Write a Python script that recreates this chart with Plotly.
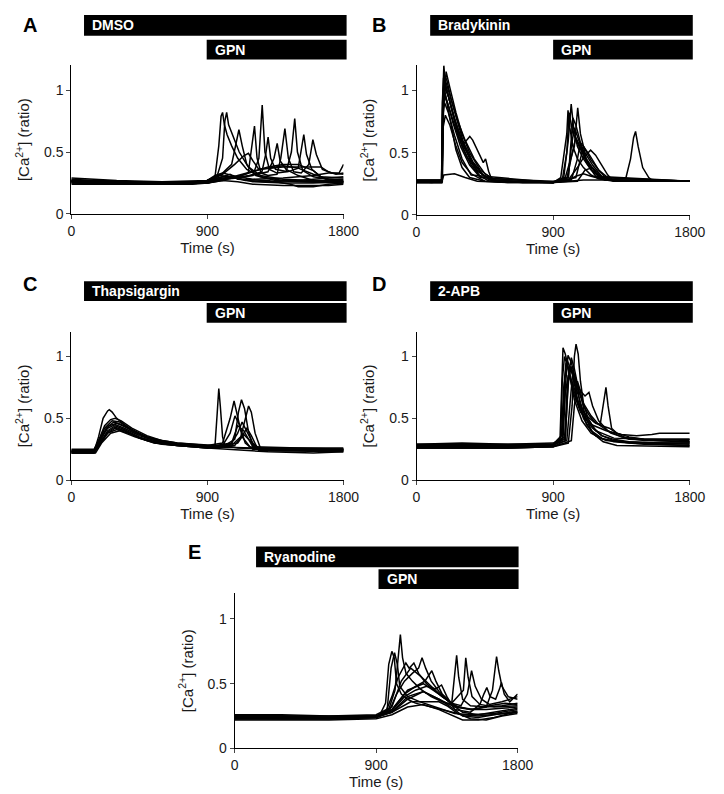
import plotly.graph_objects as go

# ---------------- DATA ----------------
x_ticks = [0, 900, 1800]
y_ticks = [0, 0.5, 1]
y_tick_text = ["0", "0.5", "1"]
panel_letters = ["A", "B", "C", "D", "E"]
drug_names = ["DMSO", "Bradykinin", "Thapsigargin", "2-APB", "Ryanodine"]
drug_start = [84, 90, 84, 90, 136]
gpn_start = [895, 900, 895, 900, 915]
bar_end = [1820, 1820, 1820, 1820, 1806]

dmso_traces = [
    ([0,150,300,450,600,750,880,950,975,990,1000,1012,1030,1060,1100,1160,1250,1400,1600,1800],
     [0.28,0.27,0.26,0.26,0.25,0.25,0.26,0.30,0.55,0.79,0.82,0.72,0.64,0.55,0.45,0.36,0.30,0.27,0.26,0.26]),
    ([0,150,300,450,600,750,880,960,1000,1015,1027,1040,1070,1110,1170,1250,1400,1600,1800],
     [0.27,0.26,0.25,0.26,0.25,0.25,0.25,0.29,0.45,0.75,0.82,0.72,0.62,0.50,0.38,0.31,0.28,0.27,0.27]),
    ([0,200,400,600,800,900,1000,1060,1085,1108,1130,1160,1220,1350,1500,1800],
     [0.26,0.26,0.25,0.25,0.25,0.27,0.33,0.40,0.55,0.68,0.55,0.40,0.31,0.27,0.26,0.25]),
    ([0,200,400,600,800,900,1000,1100,1170,1195,1211,1228,1255,1300,1360,1385,1412,1435,1470,1520,1570,1597,1620,1660,1720,1800],
     [0.27,0.26,0.26,0.25,0.25,0.27,0.30,0.30,0.33,0.55,0.71,0.45,0.33,0.31,0.32,0.45,0.69,0.45,0.34,0.33,0.40,0.60,0.48,0.36,0.33,0.32]),
    ([0,200,400,600,800,900,1000,1100,1200,1240,1262,1280,1310,1360,1420,1455,1477,1495,1530,1600,1700,1800],
     [0.26,0.26,0.25,0.25,0.25,0.26,0.29,0.30,0.31,0.45,0.88,0.50,0.36,0.33,0.34,0.50,0.77,0.50,0.35,0.30,0.28,0.28]),
    ([0,200,400,600,800,900,1000,1150,1260,1285,1301,1318,1350,1430,1500,1522,1537,1555,1590,1650,1800],
     [0.27,0.27,0.26,0.26,0.25,0.26,0.28,0.30,0.34,0.48,0.62,0.45,0.36,0.34,0.37,0.52,0.64,0.48,0.36,0.30,0.29]),
    ([0,200,400,600,800,900,1000,1150,1300,1340,1361,1380,1420,1500,1600,1800],
     [0.26,0.25,0.25,0.24,0.24,0.25,0.28,0.30,0.34,0.45,0.57,0.43,0.36,0.31,0.27,0.26]),
    ([0,200,400,600,800,900,1000,1080,1140,1171,1200,1240,1300,1400,1500,1600,1700,1800],
     [0.27,0.26,0.26,0.25,0.25,0.27,0.32,0.40,0.47,0.49,0.43,0.36,0.37,0.39,0.37,0.32,0.28,0.27]),
    ([0,300,600,900,1000,1100,1200,1300,1400,1500,1600,1650,1700,1800],
     [0.26,0.25,0.25,0.26,0.28,0.30,0.34,0.38,0.40,0.40,0.35,0.30,0.27,0.26]),
    ([0,300,600,900,1000,1100,1250,1400,1550,1650,1700,1750,1800],
     [0.25,0.25,0.24,0.25,0.27,0.31,0.36,0.38,0.38,0.38,0.34,0.32,0.33]),
    ([0,300,600,900,950,1000,1100,1200,1400,1600,1700,1770,1800],
     [0.27,0.26,0.26,0.27,0.31,0.33,0.30,0.28,0.29,0.31,0.33,0.33,0.40]),
    ([0,300,600,900,1000,1050,1100,1300,1450,1500,1600,1700,1800],
     [0.26,0.25,0.25,0.26,0.30,0.32,0.28,0.27,0.24,0.22,0.22,0.24,0.25]),
    ([0,300,600,900,1000,1100,1200,1400,1550,1700,1800],
     [0.25,0.24,0.24,0.25,0.27,0.26,0.24,0.23,0.23,0.23,0.24]),
    ([0,300,600,900,980,1050,1150,1300,1500,1700,1800],
     [0.29,0.27,0.26,0.26,0.31,0.30,0.27,0.26,0.27,0.29,0.30]),
    ([0,300,600,900,1000,1100,1200,1400,1600,1800],
     [0.24,0.24,0.24,0.25,0.28,0.29,0.26,0.25,0.25,0.26]),
]

bradykinin_traces = [
    ([0,80,165,172,180,190,210,240,280,330,400,480,550,700,900,950,990,998,1010,1030,1060,1100,1150,1200,1300,1500,1800],
     [0.27,0.27,0.27,0.90,1.20,1.05,0.95,0.80,0.62,0.47,0.35,0.29,0.27,0.26,0.26,0.30,0.65,0.84,0.70,0.55,0.45,0.38,0.32,0.29,0.27,0.27,0.27]),
    ([0,100,168,175,185,200,230,270,320,380,450,520,700,900,970,1000,1019,1035,1060,1100,1150,1220,1400,1800],
     [0.27,0.26,0.27,0.95,1.12,1.08,0.92,0.76,0.60,0.45,0.33,0.28,0.26,0.26,0.30,0.60,0.89,0.70,0.55,0.45,0.36,0.29,0.27,0.27]),
    ([0,100,165,172,180,200,240,280,310,335,351,370,400,420,440,455,475,500,600,900,980,1040,1062,1080,1110,1160,1220,1300,1800],
     [0.27,0.27,0.27,0.85,1.05,1.00,0.80,0.62,0.57,0.61,0.63,0.60,0.52,0.47,0.42,0.45,0.35,0.27,0.26,0.26,0.30,0.55,0.86,0.65,0.50,0.40,0.31,0.27,0.27]),
    ([0,165,180,250,320,400,600,900,1000,1050,1100,1150,1250,1400,1800],
     [0.26,0.26,0.32,0.33,0.30,0.27,0.26,0.26,0.28,0.31,0.33,0.31,0.28,0.27,0.27]),
    ([0,165,172,185,200,230,260,300,350,450,900,1000,1030,1050,1080,1120,1200,1800],
     [0.27,0.27,0.80,1.00,0.90,0.70,0.52,0.38,0.30,0.27,0.26,0.30,0.78,0.72,0.58,0.45,0.30,0.27]),
    ([0,165,170,178,190,220,260,310,370,430,500,900,960,990,1005,1030,1070,1120,1180,1250,1800],
     [0.26,0.26,0.90,1.10,1.05,0.90,0.72,0.55,0.42,0.33,0.27,0.26,0.28,0.50,0.82,0.66,0.55,0.44,0.34,0.28,0.27]),
    ([0,168,175,185,210,250,300,360,420,480,900,1000,1060,1100,1147,1180,1220,1260,1300,1800],
     [0.28,0.28,0.85,0.95,0.88,0.72,0.55,0.40,0.31,0.27,0.26,0.28,0.38,0.46,0.52,0.48,0.40,0.32,0.27,0.27]),
    ([0,170,176,190,215,260,310,370,440,520,900,1000,1020,1040,1070,1110,1160,1240,1800],
     [0.27,0.27,0.95,1.08,0.98,0.78,0.58,0.43,0.32,0.27,0.26,0.30,0.55,0.70,0.60,0.46,0.35,0.28,0.27]),
    ([0,168,175,190,220,260,300,360,450,900,1050,1080,1100,1140,1200,1260,1800],
     [0.27,0.27,0.70,0.80,0.72,0.55,0.42,0.33,0.27,0.26,0.30,0.45,0.55,0.48,0.36,0.28,0.27]),
    ([0,168,175,185,210,250,300,350,400,480,900,1000,1100,1200,1300,1380,1410,1430,1443,1460,1490,1530,1560,1800],
     [0.26,0.26,0.90,1.02,0.95,0.78,0.60,0.45,0.36,0.28,0.26,0.27,0.28,0.28,0.28,0.30,0.45,0.62,0.67,0.55,0.38,0.30,0.27,0.27]),
    ([0,170,178,195,220,260,300,350,420,500,900,990,1030,1050,1080,1120,1180,1800],
     [0.28,0.28,0.85,1.15,1.02,0.82,0.65,0.50,0.36,0.29,0.27,0.29,0.52,0.62,0.54,0.42,0.31,0.27]),
    ([0,166,173,182,200,240,290,350,420,900,1020,1060,1080,1100,1150,1200,1280,1800],
     [0.27,0.27,0.88,1.00,0.92,0.74,0.55,0.40,0.30,0.26,0.28,0.45,0.58,0.55,0.44,0.36,0.28,0.27]),
    ([0,166,174,185,210,250,300,360,900,1060,1110,1160,1220,1800],
     [0.26,0.26,0.80,0.90,0.82,0.64,0.45,0.32,0.26,0.27,0.36,0.38,0.30,0.27]),
]

thapsigargin_traces = [
    ([0,100,150,180,210,240,251,270,300,350,400,500,600,700,800,900,1000,1050,1076,1100,1130,1180,1300,1500,1800],
     [0.23,0.23,0.23,0.35,0.50,0.56,0.57,0.55,0.50,0.45,0.40,0.35,0.32,0.30,0.29,0.28,0.30,0.50,0.64,0.50,0.35,0.27,0.24,0.24,0.24]),
    ([0,150,180,220,260,290,330,400,500,600,700,800,900,950,965,975,985,1000,1015,1100,1300,1800],
     [0.24,0.24,0.32,0.44,0.49,0.50,0.48,0.42,0.36,0.32,0.30,0.29,0.28,0.28,0.55,0.74,0.60,0.35,0.28,0.26,0.25,0.25]),
    ([0,150,180,220,270,320,400,500,600,700,800,900,1000,1080,1105,1125,1145,1170,1200,1300,1800],
     [0.22,0.22,0.30,0.42,0.48,0.47,0.41,0.35,0.31,0.29,0.28,0.27,0.27,0.33,0.55,0.65,0.58,0.40,0.28,0.24,0.24]),
    ([0,150,185,230,280,330,400,500,600,750,900,1050,1120,1150,1172,1190,1215,1250,1400,1800],
     [0.23,0.23,0.30,0.42,0.47,0.45,0.40,0.34,0.30,0.28,0.27,0.27,0.35,0.50,0.60,0.55,0.38,0.26,0.24,0.25]),
    ([0,150,190,240,290,350,450,550,700,900,1000,1050,1082,1110,1150,1200,1800],
     [0.24,0.24,0.32,0.42,0.45,0.42,0.36,0.32,0.29,0.27,0.28,0.38,0.52,0.45,0.30,0.25,0.25]),
    ([0,150,190,240,290,350,450,550,700,900,1050,1100,1129,1160,1200,1250,1800],
     [0.23,0.23,0.30,0.40,0.44,0.41,0.35,0.31,0.28,0.27,0.28,0.38,0.47,0.40,0.30,0.25,0.24]),
    ([0,150,190,240,290,350,450,550,700,900,1080,1130,1161,1190,1230,1800],
     [0.22,0.22,0.29,0.38,0.42,0.40,0.34,0.30,0.28,0.26,0.28,0.36,0.42,0.36,0.26,0.24]),
    ([0,150,190,240,290,350,450,600,800,900,1100,1140,1180,1240,1800],
     [0.23,0.23,0.30,0.39,0.43,0.40,0.34,0.29,0.27,0.26,0.30,0.37,0.32,0.24,0.23]),
    ([0,150,190,240,300,400,500,650,900,1200,1500,1800],
     [0.24,0.24,0.30,0.38,0.41,0.37,0.32,0.29,0.27,0.26,0.26,0.26]),
    ([0,150,190,250,300,360,450,600,800,900,1060,1100,1140,1200,1800],
     [0.25,0.25,0.34,0.44,0.46,0.43,0.37,0.31,0.28,0.27,0.30,0.44,0.40,0.27,0.25]),
    ([0,160,200,260,320,420,550,700,900,1300,1600,1800],
     [0.22,0.22,0.30,0.38,0.40,0.35,0.30,0.28,0.26,0.23,0.22,0.23]),
]

apb_traces = [
    ([0,200,400,600,800,900,945,955,965,980,1000,1030,1070,1110,1160,1220,1300,1400,1600,1800],
     [0.28,0.28,0.29,0.28,0.28,0.28,0.32,0.80,1.07,1.02,0.90,0.75,0.60,0.50,0.42,0.36,0.33,0.31,0.30,0.30]),
    ([0,300,600,900,960,980,998,1020,1050,1080,1110,1136,1160,1200,1260,1350,1500,1800],
     [0.27,0.27,0.27,0.28,0.33,0.75,1.01,0.95,0.80,0.72,0.68,0.71,0.60,0.48,0.40,0.35,0.33,0.32]),
    ([0,300,600,900,1000,1025,1040,1051,1065,1080,1100,1130,1170,1220,1300,1400,1600,1800],
     [0.26,0.26,0.26,0.27,0.30,0.60,1.00,1.10,1.02,0.80,0.62,0.50,0.42,0.36,0.32,0.30,0.29,0.28]),
    ([0,300,600,900,975,995,1020,1040,1070,1100,1140,1180,1210,1235,1248,1262,1285,1320,1400,1500,1800],
     [0.29,0.29,0.28,0.29,0.33,0.80,0.99,0.90,0.72,0.60,0.52,0.46,0.45,0.65,0.75,0.60,0.42,0.38,0.35,0.33,0.33]),
    ([0,300,600,900,950,960,975,995,1030,1080,1150,1250,1350,1450,1550,1600,1700,1800],
     [0.27,0.28,0.27,0.28,0.35,0.80,1.00,0.92,0.72,0.55,0.45,0.40,0.37,0.36,0.37,0.38,0.38,0.38]),
    ([0,300,600,900,955,970,985,1005,1040,1090,1150,1230,1350,1500,1800],
     [0.28,0.28,0.28,0.29,0.36,0.75,0.95,0.88,0.65,0.48,0.38,0.33,0.31,0.30,0.30]),
    ([0,300,600,900,980,995,1010,1030,1060,1100,1150,1220,1300,1500,1800],
     [0.26,0.26,0.26,0.27,0.32,0.70,0.92,0.85,0.65,0.50,0.40,0.34,0.31,0.29,0.28]),
    ([0,300,600,900,960,975,990,1020,1060,1100,1150,1200,1280,1400,1800],
     [0.27,0.27,0.27,0.28,0.34,0.78,0.98,0.88,0.75,0.62,0.52,0.45,0.38,0.33,0.31]),
    ([0,300,600,900,990,1010,1030,1050,1080,1120,1180,1250,1350,1800],
     [0.28,0.29,0.29,0.29,0.32,0.62,0.88,0.82,0.60,0.45,0.36,0.32,0.31,0.29]),
    ([0,300,600,900,965,980,1000,1030,1070,1120,1170,1220,1270,1320,1380,1500,1800],
     [0.27,0.27,0.28,0.28,0.33,0.70,0.85,0.78,0.62,0.52,0.47,0.44,0.42,0.38,0.34,0.32,0.31]),
    ([0,300,600,900,1020,1040,1060,1080,1110,1160,1230,1320,1800],
     [0.26,0.26,0.26,0.27,0.32,0.60,0.80,0.72,0.52,0.38,0.31,0.28,0.27]),
    ([0,300,600,900,980,1000,1020,1050,1100,1180,1300,1500,1800],
     [0.29,0.30,0.29,0.30,0.35,0.80,0.92,0.75,0.55,0.40,0.34,0.33,0.33]),
]

ryanodine_traces = [
    ([0,200,400,600,800,920,960,980,1000,1015,1030,1060,1100,1150,1250,1350,1450,1550,1650,1800],
     [0.24,0.24,0.24,0.24,0.24,0.25,0.35,0.65,0.75,0.70,0.50,0.42,0.38,0.35,0.32,0.29,0.26,0.25,0.26,0.28]),
    ([0,300,600,900,970,995,1017,1035,1050,1100,1180,1300,1400,1500,1650,1800],
     [0.23,0.23,0.23,0.24,0.30,0.62,0.74,0.65,0.48,0.40,0.36,0.31,0.27,0.26,0.27,0.30]),
    ([0,300,600,900,980,1020,1040,1054,1068,1090,1130,1180,1250,1320,1380,1400,1412,1425,1450,1500,1600,1700,1800],
     [0.25,0.25,0.24,0.25,0.30,0.45,0.70,0.88,0.70,0.58,0.52,0.46,0.40,0.36,0.34,0.55,0.72,0.55,0.38,0.33,0.32,0.33,0.35]),
    ([0,300,600,900,960,1000,1040,1089,1110,1140,1170,1220,1300,1380,1455,1470,1485,1510,1560,1650,1800],
     [0.24,0.24,0.24,0.24,0.28,0.40,0.55,0.66,0.62,0.66,0.58,0.50,0.42,0.35,0.45,0.70,0.55,0.40,0.34,0.32,0.33]),
    ([0,300,600,900,980,1030,1080,1130,1170,1192,1215,1250,1300,1370,1450,1550,1650,1800],
     [0.23,0.23,0.23,0.24,0.28,0.42,0.52,0.58,0.62,0.70,0.62,0.52,0.44,0.35,0.28,0.26,0.28,0.31]),
    ([0,300,600,900,1000,1080,1150,1210,1254,1280,1320,1380,1440,1480,1507,1530,1570,1620,1700,1800],
     [0.25,0.25,0.24,0.25,0.30,0.42,0.48,0.52,0.60,0.52,0.42,0.35,0.33,0.42,0.60,0.48,0.38,0.34,0.36,0.40]),
    ([0,300,600,900,1000,1080,1150,1220,1280,1316,1350,1400,1450,1550,1650,1800],
     [0.24,0.24,0.24,0.24,0.29,0.40,0.45,0.48,0.46,0.49,0.40,0.30,0.25,0.24,0.26,0.29]),
    ([0,300,600,900,1000,1080,1120,1300,1350,1420,1500,1600,1700,1800],
     [0.24,0.23,0.23,0.24,0.28,0.33,0.36,0.36,0.33,0.27,0.23,0.22,0.25,0.27]),
    ([0,300,600,900,1000,1100,1200,1300,1400,1500,1600,1640,1655,1666,1680,1700,1740,1800],
     [0.24,0.24,0.24,0.25,0.30,0.45,0.50,0.42,0.33,0.30,0.32,0.45,0.62,0.71,0.60,0.48,0.40,0.38]),
    ([0,300,600,900,1000,1100,1200,1300,1400,1500,1560,1585,1604,1625,1660,1685,1697,1715,1750,1800],
     [0.23,0.23,0.23,0.24,0.28,0.40,0.44,0.38,0.30,0.28,0.34,0.42,0.47,0.40,0.38,0.46,0.51,0.42,0.36,0.42]),
    ([0,300,600,900,1000,1100,1200,1300,1400,1500,1600,1700,1800],
     [0.25,0.25,0.25,0.25,0.28,0.38,0.44,0.38,0.32,0.30,0.30,0.31,0.32]),
    ([0,300,600,900,1000,1100,1200,1300,1400,1450,1550,1650,1750,1800],
     [0.22,0.22,0.22,0.23,0.26,0.32,0.34,0.30,0.25,0.22,0.22,0.24,0.27,0.28]),
    ([0,300,600,900,1000,1060,1120,1180,1250,1320,1420,1520,1620,1720,1800],
     [0.26,0.26,0.25,0.26,0.32,0.52,0.62,0.56,0.48,0.40,0.32,0.30,0.33,0.35,0.34]),
]

panel_traces = [dmso_traces, bradykinin_traces, thapsigargin_traces, apb_traces, ryanodine_traces]

# ---------------- LAYOUT (pixel boxes) ----------------
W, H = 724, 794
FONT = "Liberation Sans, Arial, sans-serif"
# plot area: left, right, top, bottom
boxes = [(61, 341, 58, 208), (416, 697, 58, 209), (61, 341, 327, 477),
         (416, 697, 327, 477), (229, 520, 591, 748)]
# bar rows (top, bottom) for drug bar and GPN bar
bar_rows = [((7, 28), (32, 52)), ((7, 28), (32, 52)), ((276, 296), (298, 318)),
            ((276, 296), (298, 318)), ((544, 565), (567, 587))]
letter_pos = [(9, 17), (368, 17), (9, 279), (368, 279), (179, 550)]


def px(x):
    return x / W


def py(y):
    return 1 - y / H


fig = go.Figure()
layout = dict(width=W, height=H, margin=dict(l=0, r=0, t=0, b=0),
              paper_bgcolor="white", plot_bgcolor="white", showlegend=False,
              font=dict(family=FONT, size=14, color="#1a1a1a"))
shapes, annotations = [], []

for i, traces in enumerate(panel_traces):
    n = "" if i == 0 else str(i + 1)
    xa, ya = "x" + n, "y" + n
    l, r, t, b = boxes[i]
    for tt, vv in traces:
        fig.add_trace(go.Scatter(x=tt, y=vv, mode="lines", xaxis=xa, yaxis=ya,
                                 line=dict(color="black", width=1.5), hoverinfo="skip"))
    layout["xaxis" + n] = dict(domain=[px(l), px(r)], anchor=ya, range=[0, 1800],
                               tickvals=x_ticks, ticks="outside", ticklen=4, tickwidth=1,
                               showline=True, linecolor="black", linewidth=1,
                               showgrid=False, zeroline=False, tickfont=dict(size=14),
                               title=dict(text="Time (s)", font=dict(size=15), standoff=3))
    layout["yaxis" + n] = dict(domain=[py(b), py(t)], anchor=xa, range=[0, 1.2],
                               tickvals=y_ticks, ticktext=y_tick_text, ticks="outside",
                               ticklen=4, tickwidth=1, showline=True, linecolor="black",
                               linewidth=1, showgrid=False, zeroline=False,
                               tickfont=dict(size=14),
                               title=dict(text="[Ca<sup>2+</sup>] (ratio)", font=dict(size=15),
                                          standoff=10))
    (d_t, d_b), (g_t, g_b) = bar_rows[i]
    for start, (yt, yb), label in [(drug_start[i], (d_t, d_b), drug_names[i]),
                                   (gpn_start[i], (g_t, g_b), "GPN")]:
        shapes.append(dict(type="rect", xref=xa + " domain", yref="paper",
                           x0=start / 1800, x1=bar_end[i] / 1800, y0=py(yb), y1=py(yt),
                           fillcolor="black", line=dict(width=0), layer="above"))
        annotations.append(dict(xref=xa + " domain", yref="paper", x=start / 1800,
                                y=py((yt + yb) / 2), xanchor="left", yanchor="middle",
                                xshift=6, showarrow=False, text="<b>" + label + "</b>",
                                font=dict(color="white", size=14, family=FONT)))
    lx, ly = letter_pos[i]
    annotations.append(dict(xref="paper", yref="paper", x=px(lx), y=py(ly),
                            xanchor="left", yanchor="middle", showarrow=False,
                            text="<b>" + panel_letters[i] + "</b>",
                            font=dict(size=20, color="black", family=FONT)))

layout["shapes"] = shapes
layout["annotations"] = annotations
fig.update_layout(**layout)
fig.write_html("out.html")
